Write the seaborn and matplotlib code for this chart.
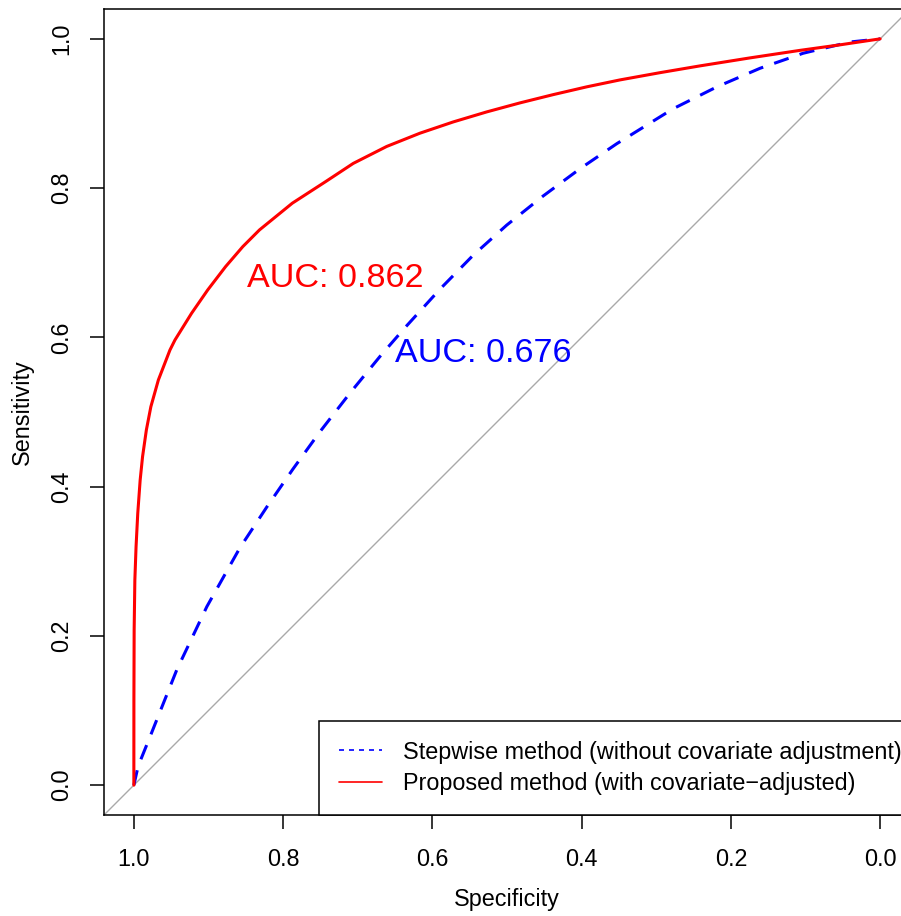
import numpy as np
import pandas as pd
import matplotlib
matplotlib.use("Agg")
import matplotlib.pyplot as plt
from matplotlib.lines import Line2D
import seaborn as sns

# ---------------------------------------------
# Data
# ---------------------------------------------
red_spec = [1.0, 0.99993, 0.99960, 0.99866, 0.99705, 0.99477, 0.99155, 0.98834,
            0.98324, 0.97721, 0.96716, 0.95161, 0.94491, 0.92265, 0.90107, 0.87708,
            0.85402, 0.83164, 0.78767, 0.74303, 0.70604, 0.66126, 0.61662, 0.57198,
            0.52721, 0.48257, 0.43794, 0.39316, 0.34853, 0.29491, 0.24129, 0.17427,
            0.10724, 0.05362, 0.0]
red_sens = [0.0, 0.1139, 0.2078, 0.2748, 0.3194, 0.3642, 0.4088, 0.4401,
            0.4759, 0.5071, 0.5429, 0.5831, 0.5965, 0.6323, 0.6635, 0.6948,
            0.7216, 0.7440, 0.7798, 0.8087, 0.8331, 0.8558, 0.8736, 0.8887,
            0.9021, 0.9142, 0.9253, 0.9357, 0.9450, 0.9547, 0.9638, 0.9745,
            0.9846, 0.9920, 1.0]

blue_spec = [1.0, 0.99424, 0.97855, 0.96515, 0.94236, 0.92493, 0.90214, 0.85791,
             0.82172, 0.78686, 0.75067, 0.71046, 0.67024, 0.63673, 0.58981, 0.54558,
             0.50040, 0.45174, 0.40214, 0.35295, 0.27748, 0.21850, 0.16086, 0.10322,
             0.04021, 0.0]
blue_sens = [0.0, 0.0255, 0.0643, 0.0979, 0.1548, 0.1914, 0.2393, 0.3180,
             0.3729, 0.4235, 0.4735, 0.5253, 0.5744, 0.6130, 0.6646, 0.7098,
             0.7504, 0.7893, 0.8260, 0.8595, 0.9063, 0.9358, 0.9606, 0.9807,
             0.9958, 1.0]

tick_values = [1.0, 0.8, 0.6, 0.4, 0.2, 0.0]
tick_labels = ["1.0", "0.8", "0.6", "0.4", "0.2", "0.0"]

auc_red = "AUC: 0.862"
auc_blue = "AUC: 0.676"
label_blue = "Stepwise method (without covariate adjustment)"
label_red = "Proposed method (with covariate\u2212adjusted)"

# ---------------------------------------------
# Style
# ---------------------------------------------
sns.set_style("white")
plt.rcParams["font.family"] = ["Liberation Sans", "DejaVu Sans"]
plt.rcParams["text.color"] = "black"
plt.rcParams["axes.labelcolor"] = "black"
FS = 16.8

fig = plt.figure(figsize=(9.01, 9.16), dpi=100)
ax = fig.add_axes([104 / 901, 101 / 916, 806 / 901, 806 / 916])

# identity line
ax.axline((1, 0), (0, 1), color="#A9A9A9", lw=1.0, zorder=1)

df_red = pd.DataFrame({"spec": red_spec, "sens": red_sens})
df_blue = pd.DataFrame({"spec": blue_spec, "sens": blue_sens})

sns.lineplot(data=df_blue, x="spec", y="sens", ax=ax, sort=False, estimator=None,
             color="blue", lw=2.2, dashes=False, zorder=3)
ax.lines[-1].set_dashes((5, 3.8))
sns.lineplot(data=df_red, x="spec", y="sens", ax=ax, sort=False, estimator=None,
             color="red", lw=2.2, zorder=4)
for ln in ax.lines:
    ln.set_solid_joinstyle("round")
    ln.set_dash_joinstyle("round")

ax.text(0.849, 0.667, auc_red, color="red", fontsize=24.6, ha="left", va="baseline")
ax.text(0.650, 0.567, auc_blue, color="blue", fontsize=24.6, ha="left", va="baseline")

ax.set_xlim(1.04, -0.04)
ax.set_ylim(-0.04, 1.04)
ax.set_xticks(tick_values)
ax.set_xticklabels(tick_labels)
ax.set_yticks(tick_values)
ax.set_yticklabels(tick_labels, rotation=90, va="center")
ax.tick_params(axis="both", direction="out", length=10, width=1.1, color="black",
               labelsize=FS, labelcolor="black", bottom=True, left=True)
ax.tick_params(axis="x", pad=14)
ax.tick_params(axis="y", pad=12)

ax.set_xlabel("Specificity", fontsize=FS, labelpad=12)
ax.set_ylabel("Sensitivity", fontsize=FS, labelpad=12)

for sp in ax.spines.values():
    sp.set_color("black")
    sp.set_linewidth(1.1)
    sp.set_visible(True)

handles = [
    Line2D([], [], color="blue", lw=1.2, dashes=(3, 3)),
    Line2D([], [], color="red", lw=1.2),
]
leg = ax.legend(handles, [label_blue, label_red], loc="lower left",
                bbox_to_anchor=((319 - 104) / 806, 0), borderaxespad=0,
                fontsize=FS, frameon=True, fancybox=False, borderpad=0.85,
                handlelength=1.85, handletextpad=0.9, labelspacing=0.37)
leg.get_frame().set_edgecolor("black")
leg.get_frame().set_linewidth(1.1)
leg.get_frame().set_alpha(1)

fig.savefig("out.png", dpi=100)
